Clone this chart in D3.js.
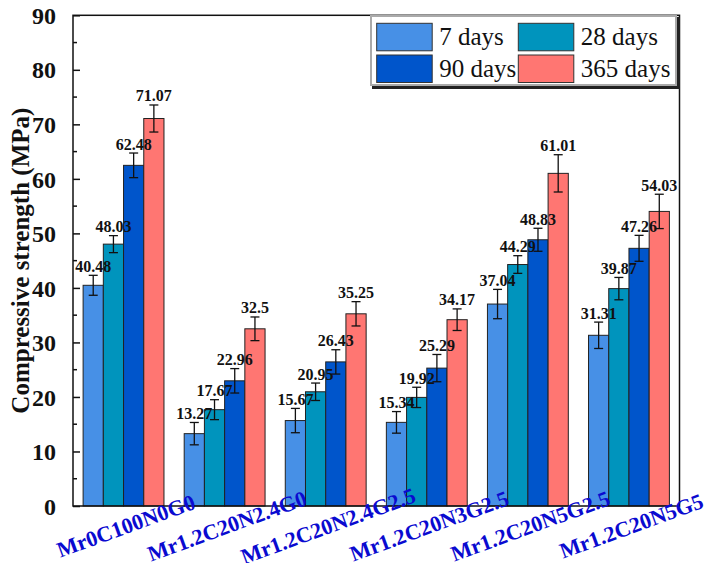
<!DOCTYPE html>
<html><head><meta charset="utf-8">
<script src="https://cdn.jsdelivr.net/npm/d3@7"></script>
<style>body{margin:0;background:#fff} svg{display:block}</style>
</head><body>
<script>
const categories = ["Mr0C100N0G0","Mr1.2C20N2.4G0","Mr1.2C20N2.4G2.5","Mr1.2C20N3G2.5","Mr1.2C20N5G2.5","Mr1.2C20N5G5"];
const seriesNames = ["7 days","28 days","90 days","365 days"];
const d7   = [40.48, 13.27, 15.67, 15.34, 37.04, 31.31];
const d28  = [48.03, 17.67, 20.95, 19.92, 44.29, 39.87];
const d90  = [62.48, 22.96, 26.43, 25.29, 48.83, 47.26];
const d365 = [71.07, 32.5, 35.25, 34.17, 61.01, 54.03];
const e7   = [1.83, 2.05, 2.23, 1.98, 2.69, 2.42];
const e28  = [1.56, 1.83, 1.60, 1.86, 1.62, 2.05];
const e90  = [2.26, 2.24, 2.23, 2.50, 2.11, 2.38];
const e365 = [2.48, 2.17, 2.23, 1.98, 3.42, 3.15];
const yTicks = [0,10,20,30,40,50,60,70,80,90];
const colors = ["#4790E6","#0094BD","#0055CB","#FF7672"];
const values = [d7,d28,d90,d365];
const errors = [e7,e28,e90,e365];

const FONT="Liberation Serif";
const W=709,H=563;
const L=73,R=679.5,T=15.3,B=506;
const svg=d3.select("body").append("svg").attr("width",W).attr("height",H);

const x0=d3.scaleBand().domain(categories).range([L,R]).paddingInner(0.2).paddingOuter(0.1);
const x1=d3.scaleBand().domain(seriesNames).range([0,x0.bandwidth()]);
const y=d3.scaleLinear().domain([0,90]).range([B,T]);

const rows=[];
categories.forEach((c,i)=>seriesNames.forEach((s,j)=>rows.push({c,s,j,v:values[j][i],e:errors[j][i]})));

// bars
svg.append("g").selectAll("rect").data(rows).join("rect")
  .attr("x",d=>x0(d.c)+x1(d.s)).attr("y",d=>y(d.v))
  .attr("width",x1.bandwidth()).attr("height",d=>y(0)-y(d.v))
  .attr("fill",d=>colors[d.j]).attr("stroke","#222").attr("stroke-width",1);

// error bars
const eg=svg.append("g").attr("stroke","#111").attr("stroke-width",1.3);
rows.forEach(d=>{
  const cx=x0(d.c)+x1(d.s)+x1.bandwidth()/2;
  eg.append("line").attr("x1",cx).attr("x2",cx).attr("y1",y(d.v+d.e)).attr("y2",y(d.v-d.e));
  eg.append("line").attr("x1",cx-4.5).attr("x2",cx+4.5).attr("y1",y(d.v+d.e)).attr("y2",y(d.v+d.e));
  eg.append("line").attr("x1",cx-4.5).attr("x2",cx+4.5).attr("y1",y(d.v-d.e)).attr("y2",y(d.v-d.e));
});

// value labels
svg.append("g").selectAll("text").data(rows).join("text")
  .attr("x",d=>x0(d.c)+x1(d.s)+x1.bandwidth()/2)
  .attr("y",d=>y(d.v+d.e)-3.5)
  .attr("text-anchor","middle").attr("font-family",FONT).attr("font-weight","bold")
  .attr("font-size",16).attr("fill","#111").text(d=>String(d.v));

// frame
svg.append("rect").attr("x",L).attr("y",T).attr("width",R-L).attr("height",B-T)
  .attr("fill","none").attr("stroke","#111").attr("stroke-width",1.5);

// y axis ticks inward
const yAxis=d3.axisLeft(y).tickValues(yTicks).tickSize(-7).tickPadding(17).tickFormat(d3.format("d"));
const ya=svg.append("g").attr("transform",`translate(${L},0)`).call(yAxis);
ya.attr("font-family",FONT).attr("font-size",24);
ya.select(".domain").remove();
ya.selectAll(".tick line").attr("stroke","#111").attr("stroke-width",1.5);
ya.selectAll(".tick text").attr("font-family",FONT).attr("font-weight","bold").attr("font-size",24).attr("fill","#111").attr("dy","0.34em");
const minor=d3.range(5,90,10);
svg.append("g").selectAll("line").data(minor).join("line")
  .attr("x1",L).attr("x2",L+4).attr("y1",d=>y(d)).attr("y2",d=>y(d))
  .attr("stroke","#111").attr("stroke-width",1.5);

// y title
svg.append("text").attr("transform",`translate(28.5,${(T+B)/2}) rotate(-90)`)
  .attr("text-anchor","middle").attr("font-family",FONT).attr("font-weight","bold")
  .attr("font-size",25).attr("fill","#111").text("Compressive strength (MPa)");

// x labels
svg.append("g").selectAll("text").data(categories).join("text")
  .attr("transform",d=>`translate(${x0(d)+x0.bandwidth()/2+5},${533}) rotate(-20)`)
  .attr("text-anchor","middle").attr("font-family",FONT).attr("font-weight","bold")
  .attr("font-size",22).attr("fill","#0a0ad0").text(d=>d);

// legend
const lg=svg.append("g");
lg.append("rect").attr("x",372).attr("y",17).attr("width",308).attr("height",72).attr("fill","#222");
lg.append("rect").attr("x",371).attr("y",16).attr("width",305).attr("height",69).attr("fill","#fff").attr("stroke","#aaa").attr("stroke-width",2);
const pos=[[376.7,23.3],[518.3,23.3],[376.7,55],[518.3,55]];
seriesNames.forEach((s,j)=>{
  const [px,py]=pos[j];
  lg.append("rect").attr("x",px).attr("y",py).attr("width",55.5).attr("height",27.5)
    .attr("fill",colors[j]).attr("stroke","#333").attr("stroke-width",1);
  lg.append("text").attr("x",px+62.5).attr("y",py+22).attr("font-family",FONT)
    .attr("font-size",25).attr("fill","#111").text(s);
});
</script>
</body></html>
